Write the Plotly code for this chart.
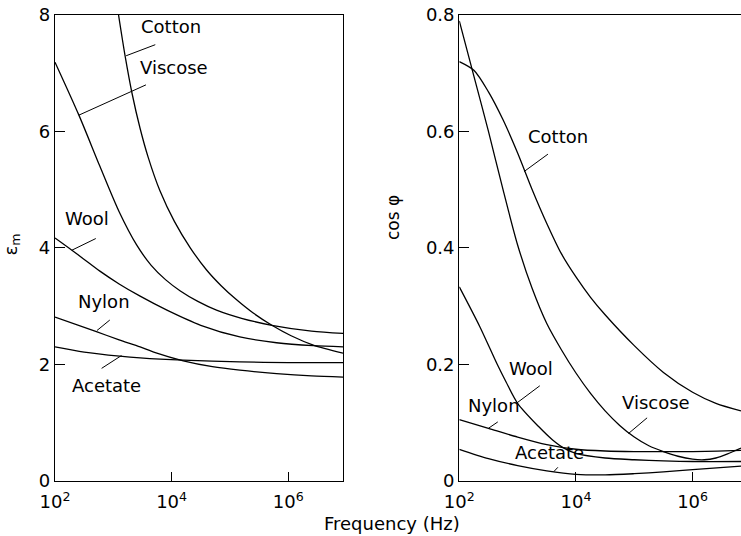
import plotly.graph_objects as go

# ---------------- data ----------------
# Left panel: relative permittivity eps_m vs log10(frequency)
L_cotton_logf = [3.09, 3.20, 3.32, 3.46, 3.60, 3.80, 4.05, 4.32, 4.60, 4.85, 5.10, 5.40, 5.72, 6.05, 6.43, 6.94]
L_cotton = [8.0, 7.31, 6.66, 6.05, 5.55, 4.98, 4.45, 4.00, 3.62, 3.35, 3.12, 2.88, 2.67, 2.49, 2.33, 2.19]
L_viscose_logf = [2.0, 2.41, 2.77, 3.10, 3.40, 3.65, 3.90, 4.15, 4.45, 4.77, 5.20, 5.72, 6.40, 6.94]
L_viscose = [7.19, 6.28, 5.40, 4.62, 4.05, 3.70, 3.45, 3.26, 3.08, 2.93, 2.79, 2.67, 2.57, 2.53]
L_wool_logf = [2.0, 2.29, 2.49, 2.77, 3.10, 3.46, 3.92, 4.50, 5.17, 5.80, 6.43, 6.94]
L_wool = [4.17, 3.96, 3.81, 3.60, 3.38, 3.17, 2.93, 2.67, 2.47, 2.37, 2.32, 2.30]
L_nylon_logf = [2.0, 2.71, 3.10, 3.46, 3.72, 4.20, 4.70, 5.17, 5.80, 6.40, 6.94]
L_nylon = [2.81, 2.56, 2.42, 2.30, 2.20, 2.06, 1.96, 1.90, 1.84, 1.80, 1.78]
L_acetate_logf = [2.0, 2.50, 3.11, 3.46, 4.20, 5.17, 6.00, 6.94]
L_acetate = [2.30, 2.21, 2.14, 2.11, 2.07, 2.04, 2.03, 2.03]

# Right panel: power factor cos(phi) vs log10(frequency)
R_cotton_logf = [2.0, 2.25, 2.5, 2.75, 3.0, 3.25, 3.5, 3.75, 4.0, 4.25, 4.5, 5.0, 5.5, 6.0, 6.4, 6.83]
R_cotton = [0.72, 0.705, 0.668, 0.62, 0.563, 0.50, 0.442, 0.39, 0.35, 0.315, 0.285, 0.232, 0.186, 0.152, 0.133, 0.12]
R_viscose_logf = [2.0, 2.25, 2.5, 2.75, 3.0, 3.25, 3.5, 3.75, 4.0, 4.25, 4.5, 4.75, 5.0, 5.25,
                  5.5, 5.75, 6.0, 6.2, 6.4, 6.6, 6.83]
R_viscose = [0.79, 0.695, 0.60, 0.50, 0.405, 0.33, 0.27, 0.225, 0.185, 0.15, 0.12, 0.095, 0.075, 0.06,
             0.05, 0.042, 0.037, 0.036, 0.039, 0.046, 0.056]
R_wool_logf = [2.0, 2.35, 2.65, 2.80, 3.00, 3.36, 3.60, 3.81, 4.00, 4.50, 5.00, 5.50, 6.00, 6.83]
R_wool = [0.333, 0.265, 0.20, 0.17, 0.133, 0.093, 0.07, 0.055, 0.047, 0.039, 0.036, 0.034, 0.033, 0.033]
R_nylon_logf = [2.0, 2.5, 3.0, 3.5, 4.0, 4.5, 5.0, 6.0, 6.83]
R_nylon = [0.105, 0.09, 0.075, 0.062, 0.054, 0.051, 0.05, 0.05, 0.052]
R_acetate_logf = [2.0, 2.5, 3.0, 3.5, 4.0, 4.5, 5.0, 5.5, 6.0, 6.83]
R_acetate = [0.054, 0.038, 0.026, 0.017, 0.011, 0.010, 0.012, 0.015, 0.019, 0.025]

x_tickvals = [1e2, 1e4, 1e6]
x_ticktext = ["10<sup>2</sup>", "10<sup>4</sup>", "10<sup>6</sup>"]
L_yticks = [0, 2, 4, 6, 8]
R_yticks = [0, 0.2, 0.4, 0.6, 0.8]
R_yticktext = ["0", "0.2", "0.4", "0.6", "0.8"]

# labels: (text, label logf, label value, pointer start logf, value, pointer end logf, value)
L_labels = [
    ("Cotton", 3.99, 7.80, 3.72, 7.49, 3.22, 7.30),
    ("Viscose", 4.04, 7.09, 3.56, 6.80, 2.41, 6.28),
    ("Wool", 2.55, 4.51, 2.70, 4.16, 2.29, 3.96),
    ("Nylon", 2.84, 3.07, 2.94, 2.76, 2.72, 2.58),
    ("Acetate", 2.89, 1.63, 2.80, 1.93, 3.14, 2.15),
]
R_labels = [
    ("Cotton", 3.69, 0.592, 3.52, 0.561, 3.11, 0.531),
    ("Wool", 3.23, 0.192, 3.38, 0.163, 2.98, 0.133),
    ("Nylon", 2.60, 0.130, 2.66, 0.101, 2.50, 0.090),
    ("Viscose", 5.37, 0.134, 5.22, 0.108, 4.90, 0.081),
    ("Acetate", 3.54, 0.0476, 3.69, 0.023, 3.62, 0.0155),
]

FONT = "DejaVu Sans"
W, H = 741, 536

fig = go.Figure()

def add_curve(logf, vals, xa, ya):
    fig.add_trace(go.Scatter(
        x=[10 ** v for v in logf], y=vals, xaxis=xa, yaxis=ya,
        mode="lines", line=dict(color="black", width=1.3, shape="spline", smoothing=0.8),
        showlegend=False, hoverinfo="skip"))

for lf, v in [(L_cotton_logf, L_cotton), (L_viscose_logf, L_viscose), (L_wool_logf, L_wool),
              (L_nylon_logf, L_nylon), (L_acetate_logf, L_acetate)]:
    add_curve(lf, v, "x", "y")
for lf, v in [(R_cotton_logf, R_cotton), (R_viscose_logf, R_viscose), (R_wool_logf, R_wool),
              (R_nylon_logf, R_nylon), (R_acetate_logf, R_acetate)]:
    add_curve(lf, v, "x2", "y2")

annotations = []
for labels, xa, ya in [(L_labels, "x", "y"), (R_labels, "x2", "y2")]:
    for text, tx, ty, px0, py0, px1, py1 in labels:
        fig.add_trace(go.Scatter(
            x=[10 ** px0, 10 ** px1], y=[py0, py1], xaxis=xa, yaxis=ya,
            mode="lines", line=dict(color="black", width=1),
            showlegend=False, hoverinfo="skip"))
        annotations.append(dict(text=text, x=tx, y=ty, xref=xa, yref=ya, showarrow=False,
                                font=dict(family=FONT, size=18, color="black"),
                                xanchor="center", yanchor="middle"))

annotations += [
    dict(text="Frequency (Hz)", x=392 / W, y=1 - 523 / H, xref="paper", yref="paper",
         showarrow=False, font=dict(family=FONT, size=18, color="black"),
         xanchor="center", yanchor="middle"),
    dict(text="ε<sub>m</sub>", x=11.5 / W, y=1 - 245 / H, xref="paper", yref="paper",
         showarrow=False, textangle=-90, font=dict(family=FONT, size=18, color="black"),
         xanchor="center", yanchor="middle"),
    dict(text="cos φ", x=393 / W, y=1 - 218 / H, xref="paper", yref="paper",
         showarrow=False, textangle=-90, font=dict(family=FONT, size=17, color="black"),
         xanchor="center", yanchor="middle"),
]

ydom = [1 - 480.7 / H, 1 - 15 / H]
common_x = dict(type="log", showline=True, linecolor="black", linewidth=1.3, mirror=True,
                ticks="inside", ticklen=9, tickwidth=1.2, tickcolor="black",
                tickvals=x_tickvals, ticktext=x_ticktext, showgrid=False, zeroline=False,
                automargin=False, ticklabelstandoff=5,
                tickfont=dict(family=FONT, size=18, color="black"))
common_y = dict(showline=True, linecolor="black", linewidth=1.3,
                ticks="inside", ticklen=10, tickwidth=1.2, tickcolor="black",
                showgrid=False, zeroline=False, automargin=False,
                tickfont=dict(family=FONT, size=18, color="black"))

fig.update_layout(
    width=W, height=H,
    margin=dict(l=0, r=0, t=0, b=0, autoexpand=False),
    paper_bgcolor="white", plot_bgcolor="white",
    xaxis=dict(common_x, domain=[55 / W, 343 / W], range=[2, 6.94], anchor="y"),
    yaxis=dict(common_y, domain=ydom, range=[0, 8], tickvals=L_yticks, mirror=True, anchor="x"),
    xaxis2=dict(common_x, domain=[459.3 / W, 1], range=[2, 6.83], anchor="y2"),
    yaxis2=dict(common_y, domain=ydom, range=[0, 0.8], tickvals=R_yticks, ticktext=R_yticktext,
                mirror=False, anchor="x2"),
    annotations=annotations,
    showlegend=False,
)

fig.write_html("out.html")
